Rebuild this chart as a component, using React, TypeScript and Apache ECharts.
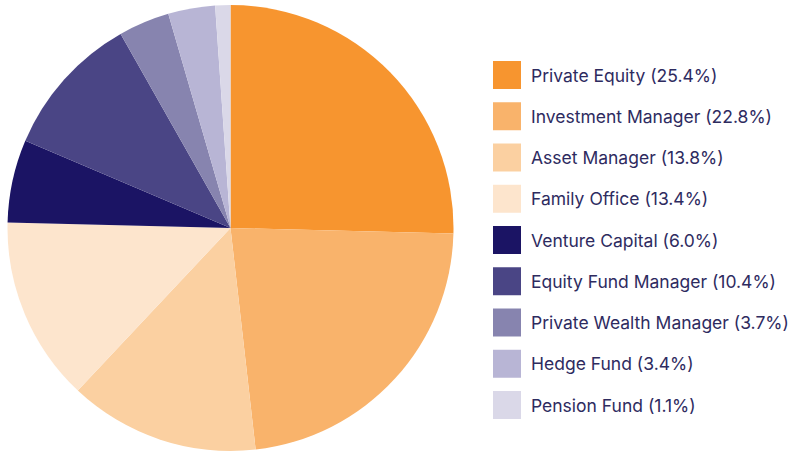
import React, { useEffect, useRef } from "react";
import * as echarts from "echarts";

const categories = [
  "Private Equity",
  "Investment Manager",
  "Asset Manager",
  "Family Office",
  "Venture Capital",
  "Equity Fund Manager",
  "Private Wealth Manager",
  "Hedge Fund",
  "Pension Fund",
];
const values = [25.4, 22.8, 13.8, 13.4, 6.0, 10.4, 3.7, 3.4, 1.1];
const colors = [
  "#F7952F",
  "#F9B36B",
  "#FBD0A1",
  "#FDE5CD",
  "#1B1464",
  "#4A4585",
  "#8784AF",
  "#B8B5D5",
  "#DAD8E8",
];

export default function App() {
  const ref = useRef<HTMLDivElement>(null);
  useEffect(() => {
    if (!ref.current) return;
    const chart = echarts.init(ref.current, undefined, { renderer: "svg" });
    const valueMap: Record<string, number> = {};
    categories.forEach((c, i) => (valueMap[c] = values[i]));
    chart.setOption({
      animation: false,
      color: colors,
      legend: {
        orient: "vertical",
        left: 493,
        top: 61,
        padding: 0,
        itemWidth: 28,
        itemHeight: 28,
        itemGap: 13.25,
        icon: "rect",
        selectedMode: false,
        data: categories,
        formatter: (name: string) => `${name} (${valueMap[name].toFixed(1)}%)`,
        textStyle: {
          fontSize: 17.5,
          color: "#2E2B5F",
          fontFamily: "Inter, Arial, sans-serif",
          padding: [0, 0, 0, 5],
        },
      },
      series: [
        {
          type: "pie",
          center: [230.5, 228],
          radius: [0, 223],
          startAngle: 90,
          clockwise: true,
          label: { show: false },
          labelLine: { show: false },
          emphasis: { disabled: true },
          itemStyle: { borderWidth: 0 },
          data: categories.map((c, i) => ({ name: c, value: values[i] })),
        },
      ],
    });
    return () => chart.dispose();
  }, []);
  return (
    <div
      ref={ref}
      style={{ position: "fixed", left: 0, top: 0, width: 794, height: 452, background: "#fff" }}
    />
  );
}
